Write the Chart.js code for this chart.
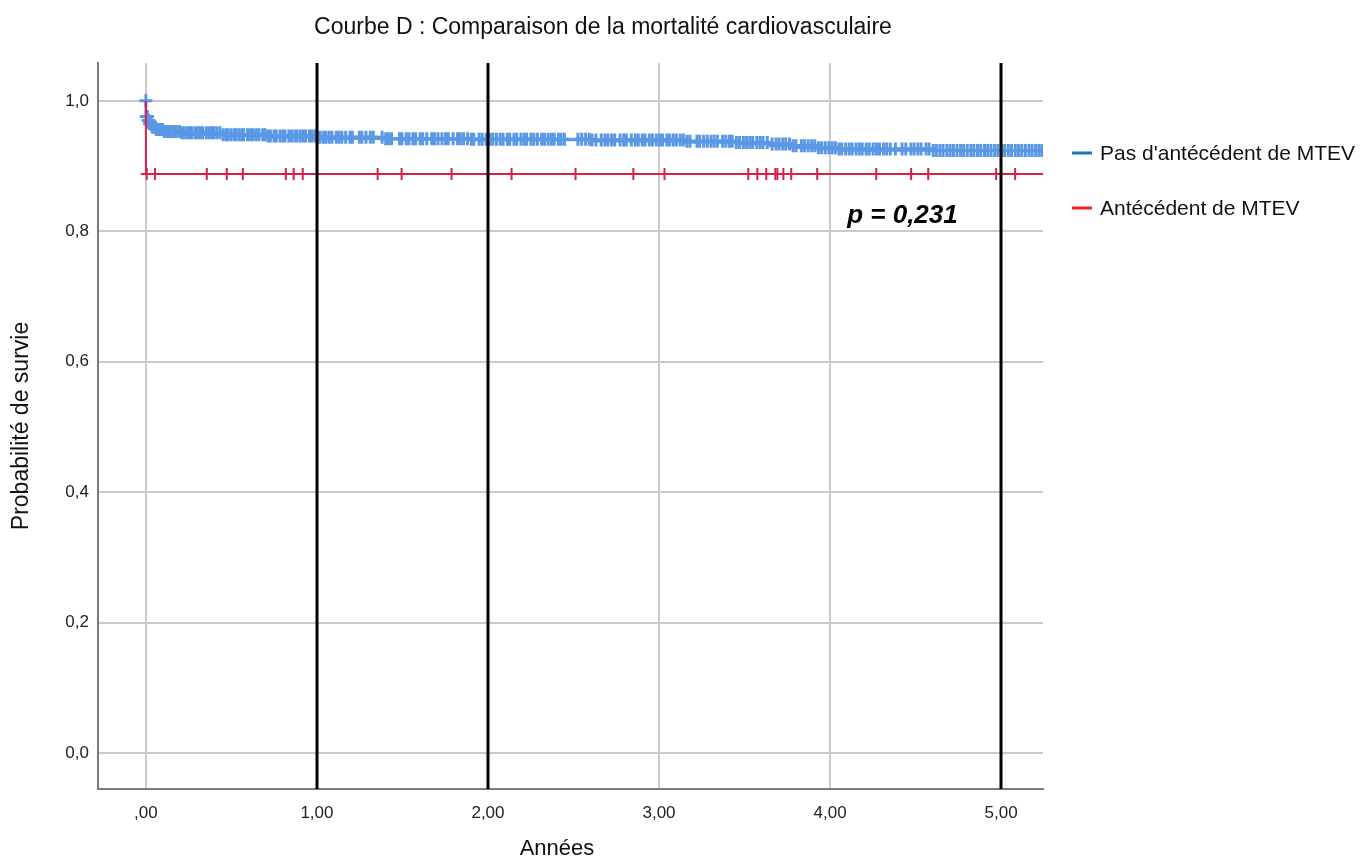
<!DOCTYPE html>
<html>
<head>
<meta charset="utf-8">
<script src="https://cdn.jsdelivr.net/npm/chart.js@4"></script>
<style>
  body { margin: 0; background: #fff; }
  #wrap { width: 1362px; height: 861px; position: relative; }
</style>
</head>
<body>
<div id="wrap"><canvas id="survieChart"></canvas></div>
<script>
// Kaplan-Meier steps (time in years, survival probability)
const blueTimes = [0, 0.001, 0.01, 0.02, 0.035, 0.06, 0.1, 0.2, 0.45, 0.7, 1.0, 1.4, 1.9, 2.6, 3.15, 3.45, 3.65, 3.78, 3.92, 4.05, 4.6, 5.245];
const blueSurv  = [1.0, 0.976, 0.970, 0.965, 0.960, 0.956, 0.953, 0.951, 0.948, 0.946, 0.944, 0.942, 0.941, 0.940, 0.938, 0.936, 0.934, 0.931, 0.928, 0.926, 0.924, 0.924];

const redTimes = [0, 0.003, 5.245];
const redSurv  = [1.0, 0.888, 0.888];

// Censored observations
const blueCensor = [
    0, 0.002, 0.005, 0.009, 0.013, 0.017, 0.022, 0.027, 0.031, 0.037, 0.042, 0.048, 0.055, 0.061, 0.068, 0.074, 0.081, 0.089, 0.097,
    0.108, 0.121, 0.137, 0.149, 0.166, 0.178, 0.196, 0.211, 0.224, 0.243, 0.257, 0.268, 0.287, 0.302, 0.318, 0.331, 0.352, 0.367, 0.384, 0.398, 0.415, 0.433, 0.451, 0.468, 0.479, 0.497,
    0.515, 0.528, 0.546, 0.563, 0.571, 0.594, 0.612, 0.627, 0.645, 0.661, 0.683, 0.697, 0.714, 0.728, 0.749, 0.762, 0.784, 0.801, 0.813, 0.836, 0.852, 0.871, 0.884, 0.903, 0.921, 0.934, 0.956, 0.968, 0.987,
    1.004, 1.018, 1.037, 1.052, 1.071, 1.088, 1.113, 1.129, 1.146, 1.168, 1.193, 1.207, 1.248, 1.263, 1.287, 1.312, 1.329, 1.381, 1.402, 1.418, 1.436, 1.483, 1.497,
    1.522, 1.538, 1.561, 1.577, 1.603, 1.618, 1.642, 1.671, 1.687, 1.708, 1.731, 1.752, 1.768, 1.796, 1.822, 1.838, 1.857, 1.881, 1.903, 1.917, 1.948, 1.966, 1.989,
    2.012, 2.028, 2.049, 2.071, 2.088, 2.113, 2.127, 2.152, 2.168, 2.193, 2.212, 2.226, 2.251, 2.268, 2.289, 2.314, 2.331, 2.352, 2.371, 2.387, 2.412, 2.428, 2.447, 2.526,
    2.548, 2.571, 2.592, 2.608, 2.631, 2.662, 2.684, 2.701, 2.723, 2.741, 2.772, 2.793, 2.809, 2.838, 2.861, 2.879, 2.902, 2.918, 2.943, 2.961, 2.984,
    3.003, 3.021, 3.046, 3.062, 3.083, 3.101, 3.124, 3.142, 3.163, 3.181, 3.222, 3.238, 3.261, 3.282, 3.304, 3.322, 3.341, 3.372, 3.391, 3.412, 3.428, 3.452, 3.471, 3.493,
    3.512, 3.531, 3.548, 3.572, 3.591, 3.608, 3.633, 3.661, 3.684, 3.702, 3.723, 3.741, 3.763, 3.784, 3.801, 3.832, 3.851, 3.872, 3.893, 3.911, 3.932, 3.951, 3.972, 3.993,
    4.012, 4.031, 4.052, 4.068, 4.091, 4.112, 4.129, 4.152, 4.171, 4.188, 4.211, 4.229, 4.252, 4.271, 4.289, 4.312, 4.331, 4.352, 4.382, 4.421, 4.443, 4.472, 4.491,
    4.513, 4.532, 4.561, 4.579, 4.603, 4.621, 4.642, 4.661, 4.683, 4.702, 4.721, 4.742, 4.763, 4.781, 4.802, 4.823, 4.841, 4.862, 4.881, 4.903, 4.922, 4.941, 4.962, 4.981,
    5.003, 5.021, 5.042, 5.061, 5.083, 5.102, 5.121, 5.142, 5.163, 5.181, 5.202, 5.221, 5.238
];
const redCensor = [0.005, 0.053, 0.356, 0.473, 0.567, 0.818, 0.864, 0.917, 1.355, 1.495, 1.787, 2.138, 2.512, 2.85, 3.032,
    3.522, 3.575, 3.627, 3.68, 3.692, 3.727, 3.773, 3.925, 4.27, 4.474, 4.574, 4.971, 5.082];

const refLines = [1, 2, 5];
const xTicks = [0, 1, 2, 3, 4, 5];
const yTicks = [0, 0.2, 0.4, 0.6, 0.8, 1.0];

const pValueText = 'p = 0,231';
const seriesLabels = ["Pas d'antécédent de MTEV", 'Antécédent de MTEV'];

const blueLine = '#5a98e6';
const redLine = '#d91f4c';
const blueLegend = '#1f73c2';
const redLegend = '#e8261c';
const FONT = '"Liberation Sans", Arial, Helvetica, sans-serif';

function toPoints(times, surv) {
    return times.map((t, i) => ({ x: t, y: surv[i] }));
}

function survAt(times, surv, t) {
    let s = surv[0];
    for (let i = 0; i < times.length; i++) {
        if (times[i] <= t) s = surv[i];
    }
    return s;
}

const overlayPlugin = {
    id: 'overlay',
    afterDatasetsDraw(chart) {
        const ctx = chart.ctx;
        const area = chart.chartArea;
        const xs = chart.scales.x;
        ctx.save();
        ctx.strokeStyle = '#000';
        ctx.lineWidth = 3;
        refLines.forEach(v => {
            const px = Math.round(xs.getPixelForValue(v));
            ctx.beginPath();
            ctx.moveTo(px, area.top);
            ctx.lineTo(px, area.bottom);
            ctx.stroke();
        });
        ctx.restore();
    },
    afterDraw(chart) {
        const ctx = chart.ctx;
        const xs = chart.scales.x;
        const ys = chart.scales.y;
        ctx.save();

        // title
        ctx.fillStyle = '#111';
        ctx.font = '23px ' + FONT;
        ctx.textAlign = 'center';
        ctx.textBaseline = 'middle';
        ctx.fillText('Courbe D : Comparaison de la mortalité cardiovasculaire', 603, 28);

        // x axis title
        ctx.font = '22px ' + FONT;
        ctx.fillText('Années', 557, 849);

        // legend
        const legendColors = [blueLegend, redLegend];
        ctx.textAlign = 'left';
        ctx.font = '21px ' + FONT;
        seriesLabels.forEach((label, i) => {
            const y = 153 + i * 55;
            ctx.fillStyle = legendColors[i];
            ctx.fillRect(1072, y - 1.5, 20, 3);
            ctx.fillStyle = '#111';
            ctx.fillText(label, 1100, y + 1);
        });

        // p value
        ctx.font = 'italic bold 26px ' + FONT;
        ctx.fillStyle = '#000';
        ctx.fillText(pValueText, xs.getPixelForValue(4.1), ys.getPixelForValue(0.823));
        ctx.restore();
    }
};

const ctx = document.getElementById('survieChart').getContext('2d');

new Chart(ctx, {
    data: {
        datasets: [
            {
                type: 'line',
                label: seriesLabels[1],
                data: toPoints(redTimes, redSurv),
                borderColor: redLine,
                borderWidth: 2,
                stepped: 'after',
                pointRadius: 0,
                order: 1
            },
            {
                type: 'scatter',
                label: seriesLabels[1] + ' (censuré)',
                data: redCensor.map(t => ({ x: t, y: survAt(redTimes, redSurv, t) })),
                pointStyle: 'cross',
                pointRadius: 6,
                borderColor: redLine,
                borderWidth: 2,
                order: 0
            },
            {
                type: 'line',
                label: seriesLabels[0],
                data: toPoints(blueTimes, blueSurv),
                borderColor: blueLine,
                borderWidth: 2.5,
                stepped: 'after',
                pointRadius: 0,
                order: 3
            },
            {
                type: 'scatter',
                label: seriesLabels[0] + ' (censuré)',
                data: blueCensor.map(t => ({ x: t, y: survAt(blueTimes, blueSurv, t) })),
                pointStyle: 'cross',
                pointRadius: 6.5,
                borderColor: blueLine,
                borderWidth: 3,
                order: 2
            }
        ]
    },
    options: {
        responsive: true,
        maintainAspectRatio: false,
        animation: false,
        devicePixelRatio: 1,
        layout: {
            padding: { top: 63, right: 319, left: 0, bottom: 0 }
        },
        plugins: {
            legend: { display: false },
            title: { display: false },
            tooltip: { enabled: false }
        },
        scales: {
            x: {
                type: 'linear',
                min: -0.28,
                max: 5.245,
                afterFit: scale => { scale.height = 72; },
                afterBuildTicks: scale => { scale.ticks = xTicks.map(v => ({ value: v })); },
                ticks: {
                    padding: 14,
                    color: '#222',
                    font: { family: FONT, size: 17 },
                    callback: v => v === 0 ? ',00' : v.toFixed(2).replace('.', ',')
                },
                grid: { color: '#cacaca', lineWidth: 2, drawTicks: false },
                border: { display: true, color: '#7a7a7a', width: 2 },
                title: { display: false }
            },
            y: {
                type: 'linear',
                min: -0.055,
                max: 1.058,
                afterFit: scale => { scale.width = 98; },
                afterBuildTicks: scale => { scale.ticks = yTicks.map(v => ({ value: v })); },
                ticks: {
                    padding: 9,
                    color: '#222',
                    font: { family: FONT, size: 17 },
                    callback: v => v.toFixed(1).replace('.', ',')
                },
                grid: { color: '#cacaca', lineWidth: 2, drawTicks: false },
                border: { display: true, color: '#7a7a7a', width: 2 },
                title: {
                    display: true,
                    text: 'Probabilité de survie',
                    color: '#111',
                    font: { family: FONT, size: 23 },
                    padding: { top: 8, bottom: 0 }
                }
            }
        }
    },
    plugins: [overlayPlugin]
});
</script>
</body>
</html>
